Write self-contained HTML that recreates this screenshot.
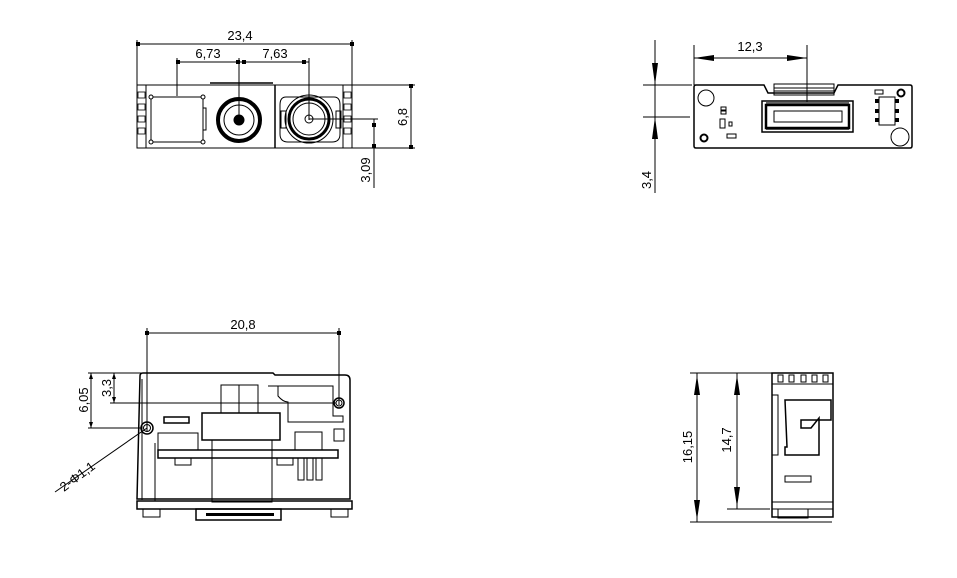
<!DOCTYPE html>
<html><head><meta charset="utf-8"><style>
html,body{margin:0;padding:0;background:#fff}
svg{display:block}
text{font-family:"Liberation Sans",sans-serif;font-size:13px;fill:#000}
</style></head><body>
<svg width="957" height="578" viewBox="0 0 957 578" xmlns="http://www.w3.org/2000/svg">
<g stroke="#000" stroke-width="1" fill="none">
<line x1="137" y1="44" x2="352" y2="44"/>
<line x1="137" y1="40" x2="137" y2="85"/><line x1="352" y1="40" x2="352" y2="85"/>
<line x1="177" y1="62" x2="309" y2="62"/>
<line x1="177" y1="58" x2="177" y2="96"/><line x1="239" y1="58" x2="239" y2="120"/><line x1="309" y1="58" x2="309" y2="120"/>
<rect x="137" y="85" width="215" height="63"/>
<line x1="146" y1="85" x2="146" y2="148"/><line x1="343" y1="85" x2="343" y2="148"/>
<line x1="275" y1="85" x2="275" y2="148" stroke-width="1.5"/>
<line x1="210" y1="83" x2="273" y2="83" stroke-width="1.5"/>
<rect x="151" y="97" width="52" height="45"/>
<rect x="203" y="108" width="3" height="22"/>
<circle cx="151" cy="97" r="2" fill="#fff"/><circle cx="203" cy="97" r="2" fill="#fff"/>
<circle cx="151" cy="142" r="2" fill="#fff"/><circle cx="203" cy="142" r="2" fill="#fff"/>
<circle cx="239" cy="120" r="21" stroke-width="4"/>
<circle cx="239" cy="120" r="15"/>
<circle cx="239" cy="120" r="5" fill="#000"/>
<path d="M286 97 h48 q6 0 6 8 v29 q0 8 -8 8 h-44 q-8 0 -8 -8 v-29 q0 -8 6 -8z"/>
<rect x="281" y="111" width="5" height="17"/><rect x="336" y="111" width="5" height="17"/>
<circle cx="309" cy="119" r="24"/>
<circle cx="309" cy="119" r="20" stroke-width="3"/>
<circle cx="309" cy="119" r="16"/>
<circle cx="309" cy="119" r="4"/>
<line x1="309" y1="119" x2="378" y2="119"/>
<line x1="374" y1="119" x2="374" y2="188"/>
<line x1="352" y1="85" x2="415" y2="85"/><line x1="352" y1="148" x2="415" y2="148"/>
<line x1="411" y1="85" x2="411" y2="148"/>
</g>
<g fill="#000">
<rect x="136" y="42" width="4" height="4"/><rect x="350" y="42" width="4" height="4"/>
<rect x="176" y="60" width="4" height="4"/><rect x="236" y="60" width="4" height="4"/><rect x="242" y="60" width="4" height="4"/><rect x="302" y="60" width="4" height="4"/>
<rect x="409" y="84" width="4" height="4"/><rect x="409" y="145" width="4" height="4"/>
<rect x="372" y="123" width="4" height="4"/><rect x="372" y="144" width="4" height="4"/>
</g>
<g fill="none" stroke="#000" stroke-width="0.8">
<rect x="138" y="92" width="7" height="6"/><rect x="138" y="104" width="7" height="6"/><rect x="138" y="116" width="7" height="6"/><rect x="138" y="128" width="7" height="6"/>
<rect x="344" y="92" width="7" height="6"/><rect x="344" y="104" width="7" height="6"/><rect x="344" y="116" width="7" height="6"/><rect x="344" y="128" width="7" height="6"/>
</g>
<text x="240" y="40" text-anchor="middle">23,4</text>
<text x="208" y="58" text-anchor="middle">6,73</text>
<text x="275" y="58" text-anchor="middle">7,63</text>
<text transform="translate(407,117) rotate(-90)" text-anchor="middle">6,8</text>
<text transform="translate(370,170) rotate(-90)" text-anchor="middle">3,09</text>

<g stroke="#000" stroke-width="1" fill="none">
<line x1="694" y1="45" x2="694" y2="85"/><line x1="807" y1="45" x2="807" y2="102"/>
<line x1="694" y1="58" x2="807" y2="58"/>
<line x1="655" y1="40" x2="655" y2="193"/>
<line x1="643" y1="85" x2="692" y2="85"/><line x1="643" y1="117" x2="690" y2="117"/>
<path d="M694 87 q0 -2 2 -2 h68 l4 8 h66 l4 -8 h72 q2 0 2 2 v59 q0 2 -2 2 h-214 q-2 0 -2 -2z" stroke-width="1.5"/>
<rect x="774" y="84" width="60" height="11"/>
<line x1="774" y1="88" x2="834" y2="88"/><line x1="774" y1="91" x2="834" y2="91"/>
<rect x="762" y="101" width="91" height="31" stroke-width="1.5"/>
<rect x="766" y="105" width="83" height="23" stroke-width="2.5"/>
<rect x="774" y="111" width="68" height="11"/>
<circle cx="706" cy="98" r="8"/>
<circle cx="900" cy="137" r="9"/>
<circle cx="704" cy="138" r="3.5" stroke-width="2"/>
<circle cx="901" cy="93" r="3.5" stroke-width="2"/>
<rect x="721" y="107" width="5" height="3"/><rect x="721" y="111" width="5" height="3"/>
<rect x="720" y="119" width="5" height="9"/><rect x="729" y="122" width="3" height="4"/>
<rect x="727" y="134" width="9" height="4"/>
<rect x="875" y="90" width="8" height="4"/>
<rect x="879" y="97" width="16" height="28"/>
</g>
<g fill="#000">
<rect x="766" y="102" width="83" height="3" opacity=".6"/>
<rect x="766" y="127" width="83" height="3" opacity=".6"/>
<rect x="875" y="99" width="4" height="4"/><rect x="875" y="109" width="4" height="4"/><rect x="875" y="118" width="4" height="4"/>
<rect x="895" y="99" width="4" height="4"/><rect x="895" y="109" width="4" height="4"/><rect x="895" y="118" width="4" height="4"/>
<path d="M694 58 l20 -3 v6z"/><path d="M807 58 l-20 -3 v6z"/>
<path d="M655 85 l-3 -22 h6z"/><path d="M655 117 l-3 22 h6z"/>
</g>
<text x="750" y="51" text-anchor="middle">12,3</text>
<text transform="translate(651,180) rotate(-90)" text-anchor="middle">3,4</text>

<g stroke="#000" stroke-width="1" fill="none">
<line x1="147" y1="333" x2="339" y2="333"/>
<line x1="147" y1="328" x2="147" y2="432"/><line x1="339" y1="328" x2="339" y2="405"/>
<line x1="88" y1="373" x2="142" y2="373"/><line x1="110" y1="403" x2="336" y2="403"/><line x1="88" y1="428" x2="142" y2="428"/>
<line x1="91" y1="373" x2="91" y2="428"/><line x1="114" y1="373" x2="114" y2="403"/>
<line x1="147" y1="428" x2="55" y2="492"/>
<path d="M140 376 q0 -3 3 -3 h130 l2 2 h70 q5 0 5 5 v119 h-213 z" stroke-width="1.5"/>
<line x1="142" y1="379" x2="142" y2="500"/>
<rect x="137" y="501" width="215" height="8" stroke-width="1.5"/>
<circle cx="147" cy="428" r="6" stroke-width="1.5"/><circle cx="147" cy="428" r="3.5"/>
<circle cx="339" cy="403" r="5" stroke-width="1.5"/><circle cx="339" cy="403" r="3"/>
<rect x="164" y="417" width="25" height="6" stroke-width="1.5"/>
<rect x="221" y="385" width="37" height="28"/><line x1="239" y1="385" x2="239" y2="413"/>
<rect x="202" y="413" width="78" height="27" stroke-width="1.5"/>
<rect x="212" y="440" width="60" height="62"/>
<path d="M268 386 h10 v10 q5 6 10 6 v20 h55 v-6 h-10 v-30 z"/>
<rect x="158" y="433" width="40" height="17"/>
<rect x="295" y="432" width="27" height="18"/>
<rect x="334" y="429" width="10" height="12"/>
<rect x="158" y="450" width="180" height="8" stroke-width="1.5"/>
<line x1="155" y1="443" x2="155" y2="501"/>
<rect x="175" y="458" width="16" height="7"/>
<rect x="277" y="458" width="16" height="7"/>
<rect x="298" y="458" width="6" height="22"/><rect x="307" y="458" width="6" height="22"/><rect x="316" y="458" width="6" height="22"/>
<rect x="143" y="509" width="17" height="8"/><rect x="331" y="509" width="17" height="8"/>
<rect x="196" y="509" width="85" height="11" stroke-width="1.5"/>
</g>
<g fill="#000">
<rect x="145" y="331" width="4" height="4"/><rect x="337" y="331" width="4" height="4"/>
<path d="M91 373 l-2 6 h4z"/><path d="M91 428 l-2 -6 h4z"/>
<path d="M114 373 l-2 6 h4z"/><path d="M114 403 l-2 -6 h4z"/>
<rect x="206" y="513" width="68" height="3"/>
</g>
<text x="243" y="329" text-anchor="middle">20,8</text>
<text transform="translate(88,400) rotate(-90)" text-anchor="middle">6,05</text>
<text transform="translate(111,388) rotate(-90)" text-anchor="middle">3,3</text>
<text transform="translate(80,480) rotate(-37)" text-anchor="middle">2-Φ1,1</text>

<g stroke="#000" stroke-width="1" fill="none">
<line x1="690" y1="373" x2="772" y2="373"/><line x1="690" y1="522" x2="832" y2="522"/><line x1="727" y1="509" x2="770" y2="509"/>
<line x1="697" y1="373" x2="697" y2="522"/><line x1="737" y1="373" x2="737" y2="509"/>
<rect x="772" y="373" width="61" height="144" stroke-width="1.5"/>
<line x1="772" y1="384" x2="833" y2="384"/>
<rect x="778" y="375" width="5" height="7"/><rect x="789" y="375" width="5" height="7"/><rect x="801" y="375" width="5" height="7"/><rect x="812" y="375" width="5" height="7"/><rect x="823" y="375" width="5" height="7"/>
<rect x="772" y="395" width="6" height="60"/>
<path d="M785 400 h46 v20 h-30 v8 h10 l8 -10 v37 h-34 v-8 h2z" stroke-width="1.5"/>
<rect x="785" y="476" width="26" height="6"/>
<rect x="772" y="502" width="61" height="7"/>
<rect x="778" y="509" width="30" height="9"/>
</g>
<g fill="#000">
<path d="M697 375 l-3 20 h6z"/><path d="M697 520 l-3 -20 h6z"/>
<path d="M737 375 l-3 20 h6z"/><path d="M737 507 l-3 -20 h6z"/>
</g>
<text transform="translate(692,447) rotate(-90)" text-anchor="middle">16,15</text>
<text transform="translate(731,440) rotate(-90)" text-anchor="middle">14,7</text>
</svg>
</body></html>
